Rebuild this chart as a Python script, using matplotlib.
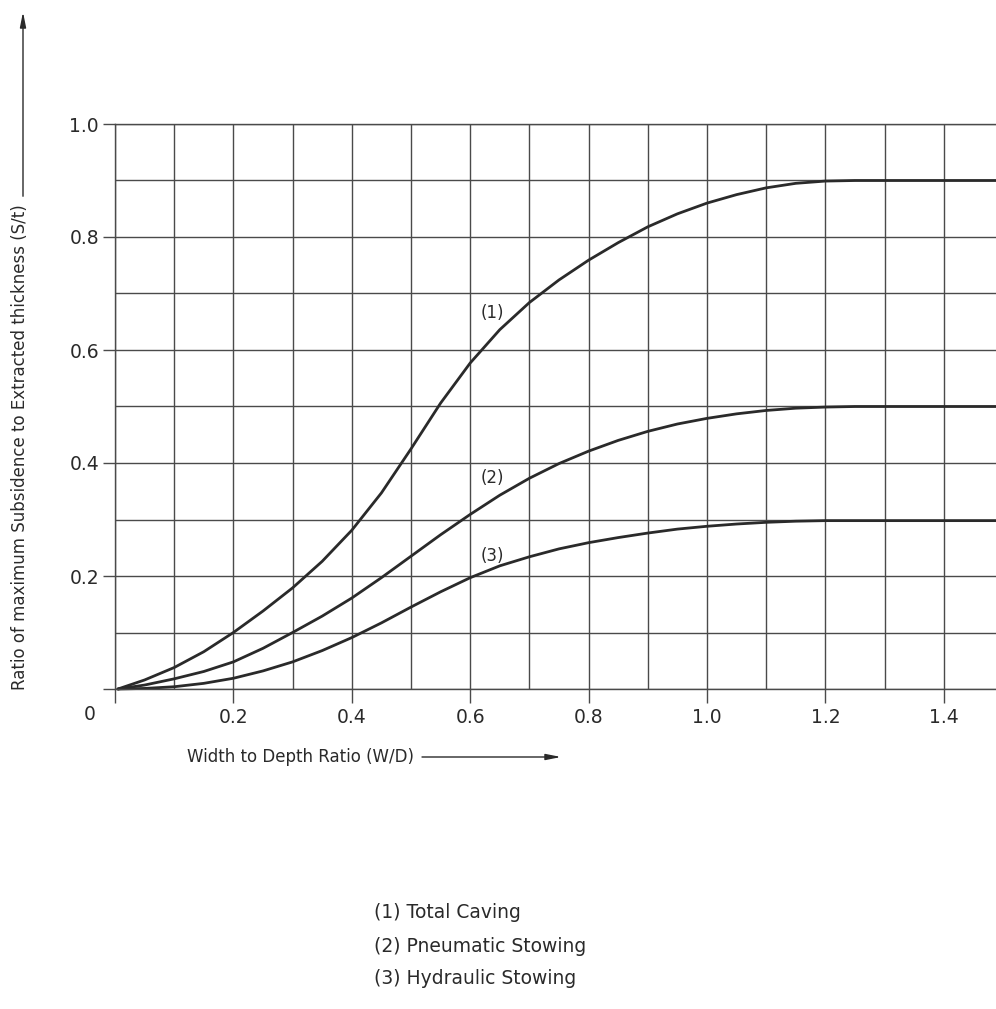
import numpy as np
import matplotlib
matplotlib.use("Agg")
from matplotlib import pyplot as plt

# valores
w_d = [0.005, 0.05, 0.10, 0.15, 0.20, 0.25, 0.30, 0.35, 0.40, 0.45, 0.50,
       0.55, 0.60, 0.65, 0.70, 0.75, 0.80, 0.85, 0.90, 0.95, 1.00, 1.05,
       1.10, 1.15, 1.20, 1.25, 1.49]
total_caving = [0.0, 0.016, 0.038, 0.066, 0.100, 0.138, 0.179, 0.226, 0.281,
                0.347, 0.425, 0.506, 0.577, 0.636, 0.684, 0.724, 0.759, 0.790,
                0.818, 0.841, 0.860, 0.875, 0.887, 0.895, 0.899, 0.900, 0.900]
pneumatic = [0.0, 0.007, 0.018, 0.031, 0.048, 0.072, 0.100, 0.129, 0.161,
             0.197, 0.235, 0.273, 0.309, 0.343, 0.373, 0.399, 0.421, 0.440,
             0.456, 0.469, 0.479, 0.487, 0.493, 0.497, 0.499, 0.500, 0.500]
hydraulic = [0.0, 0.001, 0.004, 0.010, 0.019, 0.032, 0.048, 0.068, 0.091,
             0.117, 0.145, 0.172, 0.197, 0.218, 0.234, 0.248, 0.259, 0.268,
             0.276, 0.283, 0.288, 0.292, 0.295, 0.297, 0.298, 0.298, 0.298]
curve_tags = ["(1)", "(2)", "(3)"]
tag_pos = [(0.637, 0.665), (0.637, 0.373), (0.637, 0.235)]
legend_lines = ["(1) Total Caving", "(2) Pneumatic Stowing", "(3) Hydraulic Stowing"]
xticks = [0.0, 0.2, 0.4, 0.6, 0.8, 1.0, 1.2, 1.4]
xticklabels = ["", "0.2", "0.4", "0.6", "0.8", "1.0", "1.2", "1.4"]
yticks = [0.0, 0.2, 0.4, 0.6, 0.8, 1.0]
yticklabels = ["", "0.2", "0.4", "0.6", "0.8", "1.0"]

W, H = 996, 1009
ink = "#2a2a2a"
grid_c = "#4a4a4a"
plt.rcParams['font.family'] = ['DejaVu Sans']

fig = plt.figure(figsize=(W / 100, H / 100), dpi=100)
fig.patch.set_facecolor("white")

# ejes: x=0 en 115 px, y=0 en 689 px, y=1.0 en 124 px
ax = fig.add_axes([115 / W, (H - 689) / H, (W - 115) / W, 565 / H])
ax.set_xlim(0, (W - 115) / 592)
ax.set_ylim(0, 1.0)

ax.set_xticks(xticks)
ax.set_xticklabels(xticklabels)
ax.set_xticks(np.arange(0.1, 1.5, 0.2), minor=True)
ax.set_yticks(yticks)
ax.set_yticklabels(yticklabels)
ax.set_yticks(np.arange(0.1, 1.0, 0.2), minor=True)
ax.grid(True, which="both", color=grid_c, lw=1.0)
ax.set_axisbelow(True)
ax.tick_params(which="major", direction="out", color=grid_c, width=1.0,
               labelsize=13.5, labelcolor=ink)
ax.tick_params(axis="x", which="major", length=10, pad=4)
ax.tick_params(axis="y", which="major", length=8.5, pad=3)
ax.tick_params(which="minor", length=0)
for s in ["left", "bottom", "top"]:
    ax.spines[s].set_color(grid_c)
    ax.spines[s].set_linewidth(1.0)
ax.spines["right"].set_visible(False)

for serie in [total_caving, pneumatic, hydraulic]:
    ax.plot(w_d, serie, color=ink, lw=2.0, solid_joinstyle="round",
            solid_capstyle="round", clip_on=False)

for tag, (tx, ty) in zip(curve_tags, tag_pos):
    ax.text(tx, ty, tag, fontsize=12, color=ink, ha="center", va="center")

# origen "0"
fig.text(90 / W, 1 - 715 / H, "0", fontsize=13.5, color=ink,
         ha="center", va="center")

# etiquetas de los ejes con flechas
xl = fig.text(187 / W, 1 - 757 / H, "Width to Depth Ratio (W/D)", fontsize=12,
              color=ink, ha="left", va="center")
yl = fig.text(20 / W, 1 - 690 / H,
              "Ratio of maximum Subsidence to Extracted thickness (S/t)",
              fontsize=12, color=ink, ha="center", va="bottom", rotation=90)

fig.canvas.draw()
r = fig.canvas.get_renderer()
bx = xl.get_window_extent(r)
by = yl.get_window_extent(r)
arrow = dict(arrowstyle="-|>,head_length=0.9,head_width=0.18", lw=1.0,
             color=ink, shrinkA=0, shrinkB=0)
ax.annotate("", xy=(561, H - 757), xytext=(bx.x1 + 8, H - 757),
            xycoords="figure pixels", textcoords="figure pixels",
            arrowprops=arrow, annotation_clip=False)
ax.annotate("", xy=(23, H - 12), xytext=(23, by.y1 + 8),
            xycoords="figure pixels", textcoords="figure pixels",
            arrowprops=arrow, annotation_clip=False)

for i, line in enumerate(legend_lines):
    fig.text(374 / W, 1 - (913 + 33 * i) / H, line, fontsize=13.5, color=ink,
             ha="left", va="center")

fig.savefig("out.png", dpi=100, facecolor="white")
